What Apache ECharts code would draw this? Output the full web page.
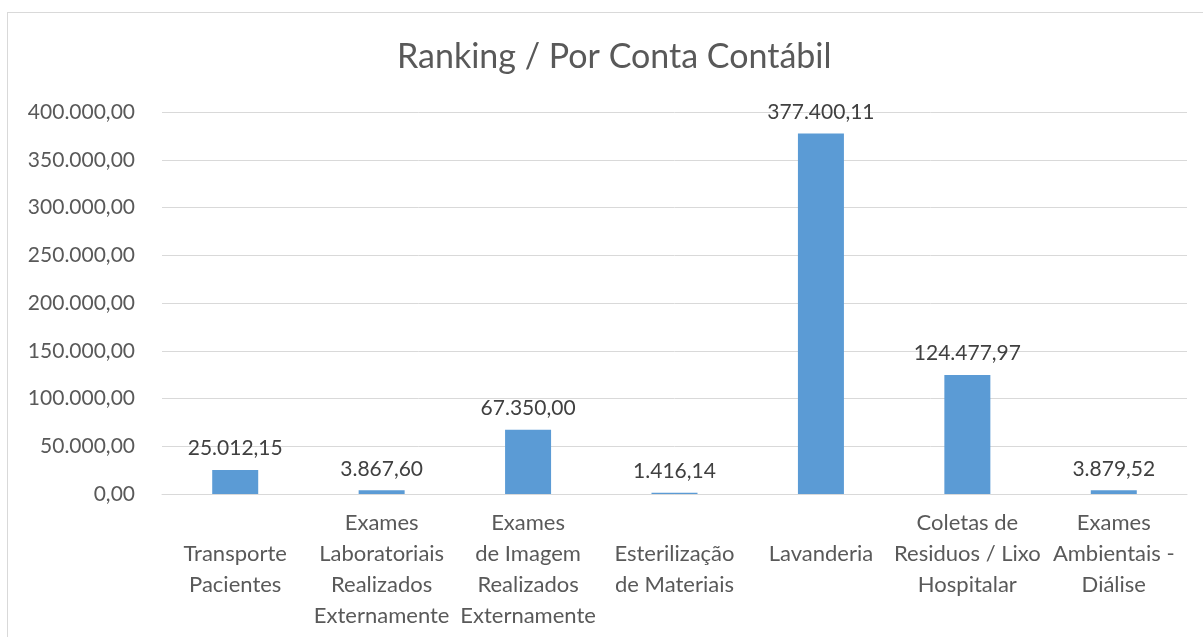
<!DOCTYPE html>
<html>
<head>
<meta charset="utf-8">
<script src="https://cdn.jsdelivr.net/npm/echarts@6/dist/echarts.min.js"></script>
<style>
  html, body { margin: 0; padding: 0; background: #fff; overflow: hidden; }
  #frame {
    position: absolute; left: 7px; top: 12px; width: 1300px; height: 700px;
    border: 1px solid #d9d9d9; box-sizing: border-box;
  }
  #chart { position: absolute; left: 0; top: 0; width: 1203px; height: 637px; }
</style>
</head>
<body>
<div id="frame"></div>
<div id="chart"></div>
<script>
// categories as they wrap in the original
const categories = [
  'Transporte\nPacientes',
  'Exames\nLaboratoriais\nRealizados\nExternamente',
  'Exames\nde Imagem\nRealizados\nExternamente',
  'Esterilização\nde Materiais',
  'Lavanderia',
  'Coletas de\nResiduos / Lixo\nHospitalar',
  'Exames\nAmbientais -\nDiálise'
];
const values = [25012.15, 3867.60, 67350.00, 1416.14, 377400.11, 124477.97, 3879.52];

const yMin = 0;
const yMax = 400000;
const yStep = 50000;

const FONT = 'Lato, "Open Sans", sans-serif';

const fmt = (v) => v.toLocaleString('pt-BR', { minimumFractionDigits: 2, maximumFractionDigits: 2 });

const myChart = echarts.init(document.getElementById('chart'), null, { renderer: 'canvas' });

const option = {
  animation: false,
  title: {
    text: 'Ranking / Por Conta Contábil',
    left: 392,
    top: 35,
    textStyle: { fontFamily: FONT, fontSize: 34, fontWeight: 'normal', color: '#595959' }
  },
  grid: { left: 162, right: 16, top: 112, bottom: 143 },
  xAxis: {
    type: 'category',
    data: categories,
    axisLine: { lineStyle: { color: '#d9d9d9', width: 1 } },
    axisTick: { show: false },
    axisLabel: {
      interval: 0,
      margin: 13,
      fontFamily: FONT,
      fontSize: 22,
      lineHeight: 31,
      color: '#595959',
      // short labels start one line lower, like the original
      formatter: (v) => (v.split('\n').length <= 2 ? '\n' + v : v)
    }
  },
  yAxis: {
    type: 'value',
    min: yMin,
    max: yMax,
    interval: yStep,
    axisLine: { show: false },
    axisTick: { show: false },
    splitLine: { lineStyle: { color: '#d9d9d9', width: 1 } },
    axisLabel: {
      margin: 27,
      fontFamily: FONT,
      fontSize: 21,
      color: '#595959',
      formatter: (v) => fmt(v)
    }
  },
  series: [
    {
      type: 'bar',
      data: values,
      barWidth: 46,
      itemStyle: { color: '#5b9bd5' },
      label: {
        show: true,
        position: 'top',
        distance: 11,
        fontFamily: FONT,
        fontSize: 21,
        color: '#404040',
        formatter: (p) => fmt(p.value)
      }
    }
  ]
};

myChart.setOption(option);
</script>
</body>
</html>
